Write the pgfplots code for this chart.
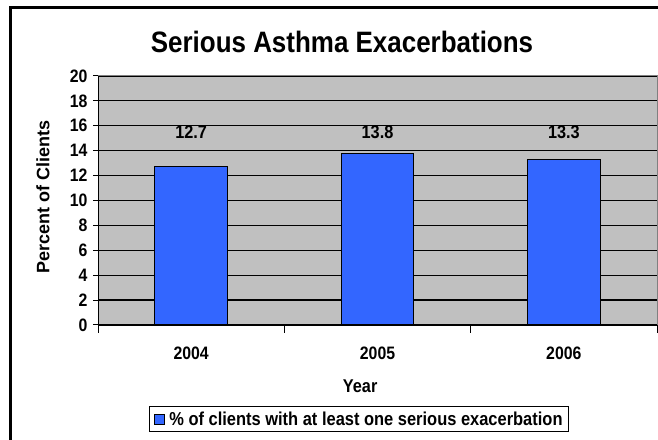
\documentclass[border=0pt]{standalone}
\usepackage{fontspec}
\setmainfont{Liberation Sans}[FakeStretch=0.88]
\newfontfamily\uprightsans{Liberation Sans}
\usepackage{pgfplots}
\usepackage{pgfplotstable}
\pgfplotsset{compat=1.18}

\definecolor{barblue}{RGB}{51,102,255}
\definecolor{plotgrey}{RGB}{192,192,192}
\definecolor{framegrey}{RGB}{128,128,128}

\pgfplotstableread{
x year value
0 2004 12.7
1 2005 13.8
2 2006 13.3
}\asthmadata

\begin{document}
\begin{tikzpicture}[x=1bp,y=1bp]
\clip (0,0) rectangle (658,440);
\fill[white] (0,0) rectangle (658,440);
% outer chart frame
\draw[line width=3bp] (10,-20) -- (10,432) -- (680,432);

\node[font=\fontsize{29.5bp}{34bp}\selectfont\bfseries] at (342,398) {Serious Asthma Exacerbations};

\begin{axis}[
  at={(98bp,115bp)}, anchor=south west,
  scale only axis, width=559bp, height=249bp,
  xmin=-0.5, xmax=2.5, ymin=0, ymax=20,
  axis background/.style={fill=plotgrey},
  axis line style={framegrey, line width=1bp},
  xtick={0,1,2}, xticklabels={2004,2005,2006},
  minor xtick={-0.5,0.5,1.5,2.5},
  ytick={0,2,...,20},
  tick align=outside, tick pos=left,
  major tick length=5bp, minor tick length=8bp,
  tick style={black, line width=1bp},
  x tick style={draw=none},
  minor x tick style={draw=black, line width=1bp},
  ymajorgrids, grid style={black, line width=1.2bp},
  /pgf/number format/assume math mode=true,
  ticklabel style={font=\fontsize{18bp}{21bp}\selectfont\bfseries},
  xticklabel style={yshift=-13bp},
  yticklabel style={xshift=-2bp},
  xlabel={Year},
  xlabel style={at={(0.469,-0.245)}, anchor=center, font=\fontsize{18.5bp}{21bp}\selectfont\bfseries},
  ylabel={Percent of Clients},
  ylabel style={at={(-0.0984,0.514)}, anchor=center, font=\fontsize{18bp}{21bp}\selectfont\bfseries\uprightsans},
  legend style={at={(0.467,-0.3775)}, anchor=center, draw=black, line width=1.5bp,
    font=\fontsize{18.7bp}{22bp}\selectfont\bfseries, inner xsep=4bp, inner ysep=3bp},
  legend image code/.code={%
    \draw[fill=barblue, draw=black, line width=0.8bp] (0bp,-5bp) rectangle (10bp,5bp);
    \path (13bp,0bp);},
]
\addplot[ybar, bar width=0.39, fill=barblue, draw=black, line width=0.8bp]
  table[x=x, y=value] {\asthmadata};
\addlegendentry{\% of clients with at least one serious exacerbation}

% value labels, set at a common height above the bars
\addplot[draw=none, mark=none, forget plot, nodes near coords, point meta=explicit,
  every node near coord/.style={anchor=center, font=\fontsize{18.5bp}{21bp}\selectfont\bfseries}]
  table[x=x, y expr=15.5, meta=value] {\asthmadata};

% left and bottom axis lines in black
\draw[black, line width=1.2bp] (rel axis cs:0,1) -- (rel axis cs:0,0) -- (rel axis cs:1,0);
\end{axis}
\end{tikzpicture}
\end{document}
